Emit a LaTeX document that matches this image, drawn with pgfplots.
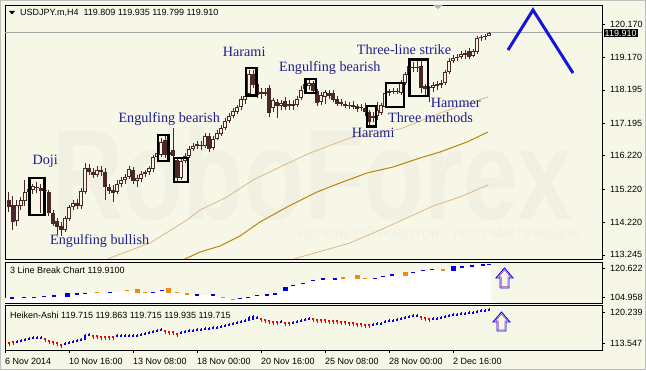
\documentclass[border=0pt]{standalone}
\usepackage{pgfplots}
\pgfplotsset{compat=1.18}
\usepackage{pgfplotstable}
\usepackage{fontspec}
\setmainfont{Liberation Sans}
\newfontfamily\seriffont{Liberation Serif}
\definecolor{bg}{RGB}{247,247,231}
\definecolor{candle}{RGB}{75,40,40}
\definecolor{navy}{RGB}{30,30,140}
\definecolor{maup}{RGB}{222,184,135}
\definecolor{mamid}{RGB}{184,134,11}
\definecolor{zz}{RGB}{20,20,220}
\definecolor{wm}{RGB}{240,240,227}
\definecolor{lbblue}{RGB}{0,0,230}
\definecolor{lborange}{RGB}{240,140,20}
\definecolor{hablue}{RGB}{0,0,235}
\definecolor{hared}{RGB}{240,0,0}

\pgfplotstableread{
i o h l c
1 114.89 115.13 114.53 114.68
2 114.74 115.01 113.99 114.23
3 114.26 114.89 114.11 114.74
4 114.71 114.98 114.59 114.89
5 114.86 115.49 114.71 115.13
6 115.13 115.31 115.01 115.22
7 115.19 115.37 115.07 115.31
8 115.28 115.43 115.10 115.25
9 115.25 115.37 114.50 115.16
10 115.19 115.31 115.07 115.16
11 115.13 115.19 114.41 114.50
12 114.50 114.59 114.11 114.17
13 114.26 114.35 113.84 114.08
14 114.11 114.23 113.81 113.99
15 113.99 114.41 113.93 114.35
16 114.32 114.74 114.26 114.68
17 114.68 114.89 114.59 114.80
18 114.80 114.92 114.62 114.71
19 114.71 115.25 114.62 115.16
20 115.13 116.00 115.07 115.85
21 115.85 115.97 115.64 115.73
22 115.73 115.85 115.55 115.64
23 115.64 115.91 115.58 115.79
24 115.79 115.91 115.61 115.73
25 115.73 115.85 114.89 115.28
26 115.28 115.37 115.07 115.16
27 115.19 115.34 114.83 115.10
28 115.13 115.49 115.07 115.37
29 115.37 115.58 115.28 115.49
30 115.49 115.67 115.37 115.58
31 115.58 115.91 115.52 115.82
32 115.79 115.88 115.37 115.46
33 115.46 115.64 115.28 115.55
34 115.52 115.76 115.43 115.67
35 115.67 115.79 115.58 115.73
36 115.73 115.91 115.64 115.85
37 115.82 116.24 115.73 116.18
38 116.18 116.39 116.09 116.30
39 116.24 116.75 116.18 116.63
40 116.69 116.81 116.15 116.24
41 116.24 116.39 116.09 116.33
42 116.39 117.05 116.09 116.21
43 116.09 116.15 115.46 115.55
44 115.55 116.18 115.49 116.06
45 116.06 116.30 116.00 116.21
46 116.21 116.51 116.15 116.42
47 116.42 116.60 116.36 116.51
48 116.51 116.66 116.42 116.57
49 116.54 116.66 116.39 116.51
50 116.51 116.90 116.45 116.81
51 116.81 116.90 116.33 116.42
52 116.45 116.81 116.39 116.72
53 116.72 116.99 116.69 116.90
54 116.87 117.14 116.81 117.05
55 117.05 117.35 116.99 117.26
56 117.26 117.50 117.20 117.41
57 117.41 117.65 117.35 117.56
58 117.53 117.74 117.47 117.68
59 117.68 118.01 117.59 117.92
60 117.89 118.10 117.77 118.01
61 118.07 118.79 118.01 118.67
62 118.67 118.79 118.25 118.34
63 118.37 118.49 117.95 118.04
64 118.07 118.25 117.92 118.13
65 118.13 118.25 118.01 118.07
66 118.25 118.34 117.38 117.50
67 117.65 117.95 117.53 117.89
68 117.83 117.92 117.35 117.71
69 117.71 117.89 117.59 117.80
70 117.86 117.98 117.59 117.68
71 117.77 117.89 117.59 117.71
72 117.71 117.89 117.59 117.77
73 117.74 118.01 117.68 117.92
74 117.95 118.31 117.89 118.19
75 118.22 118.46 118.13 118.37
76 118.31 118.49 118.19 118.40
77 118.40 118.46 118.10 118.16
78 118.16 118.22 117.71 117.80
79 117.83 118.13 117.74 118.04
80 117.98 118.19 117.77 118.13
81 118.10 118.19 117.92 118.01
82 118.10 118.19 117.83 117.89
83 117.92 118.01 117.71 117.77
84 117.83 117.92 117.71 117.77
85 117.77 117.86 117.65 117.71
86 117.74 117.83 117.62 117.71
87 117.74 117.86 117.62 117.68
88 117.71 117.77 117.53 117.62
89 117.65 117.77 117.56 117.68
90 117.65 117.80 117.41 117.53
91 117.53 117.59 117.14 117.23
92 117.35 117.53 117.23 117.41
93 117.41 117.83 117.29 117.59
94 117.50 117.80 117.44 117.74
95 117.68 118.19 117.65 118.10
96 118.10 118.22 118.01 118.16
97 118.16 118.25 118.07 118.13
98 118.13 118.25 118.07 118.16
99 118.10 118.49 118.04 118.40
100 118.40 118.73 118.34 118.67
101 118.64 119.03 118.58 118.91
102 118.88 119.03 118.73 118.85
103 118.85 119.06 118.73 118.88
104 118.91 119.09 118.10 118.25
105 118.31 118.37 117.98 118.22
106 118.25 118.31 117.83 118.28
107 118.25 118.43 118.13 118.34
108 118.31 118.46 118.19 118.37
109 118.34 118.49 118.25 118.40
110 118.40 118.79 118.34 118.73
111 118.73 119.15 118.67 119.06
112 119.06 119.24 119.00 119.15
113 119.15 119.27 119.06 119.18
114 119.18 119.36 119.12 119.27
115 119.24 119.39 119.12 119.30
116 119.36 119.45 119.12 119.18
117 119.21 119.42 119.18 119.36
118 119.33 119.81 119.27 119.75
119 119.75 119.84 119.66 119.78
120 119.78 119.87 119.70 119.81
121 119.809 119.935 119.799 119.910
}\candles

\pgfplotstableread{
i v
23.75 113.00
26.25 113.15
36.25 113.60
45.5 114.29
48.75 114.59
55.5 114.98
62 115.49
68.75 115.88
76.25 116.30
86.25 116.75
98.75 117.02
109.5 117.53
120.75 117.98
}\maU

\pgfplotstableread{
i v
42.5 113.00
45 113.12
48.75 113.33
53.75 113.51
58.75 113.81
63.75 114.23
70.5 114.68
78 115.13
83.75 115.40
90.5 115.70
97 115.88
103.75 116.15
108.75 116.33
115.5 116.63
120.75 116.93
}\maM

\pgfplotstableread{
i v
70 113.00
73 113.15
86.25 113.60
95.5 114.08
98.75 114.26
103.75 114.53
107 114.71
113.75 114.98
120.75 115.34
}\maL

\pgfplotstableread{
i v
0 104.42
1.75 104.42
4.75 104.58
7.25 104.80
9.75 105.12
12.25 105.50
15.5 106.04
18 106.58
20 106.96
23 107.28
26.25 107.28
30.5 108.58
33 108.36
35 107.28
37 107.28
39.25 108.58
40.75 108.58
43 107.28
45.5 106.58
48 106.04
52 106.04
54.5 104.80
57 103.72
58.75 104.04
60.75 104.80
63 105.66
65.5 106.04
67.5 106.58
70 109.28
72 111.06
74.5 112.36
77 113.98
79.5 114.68
82.5 114.68
84.5 115.22
88 115.76
90 115.06
92.5 115.06
94.5 115.92
96.75 116.84
100 117.38
102 118.30
104.5 119.16
106.75 119.70
109.5 119.54
112 120.46
114.25 121.16
116.75 121.70
119.5 122.24
121 122.62
121.6 122.62
}\lbarea

\pgfplotstableread{
i v
1.75 104.42
4.75 104.58
7.25 104.80
9.75 105.12
12.25 105.50
15.5 106.04
18 106.58
20 106.96
26.25 107.28
37 107.28
39.25 108.58
48 106.04
52 106.04
58.75 104.04
60.75 104.80
63 105.66
65.5 106.04
67.5 106.58
70 109.28
72 111.06
74.5 112.36
77 113.98
79.5 114.68
82.5 114.68
92.5 115.06
94.5 115.92
96.75 116.84
102 118.30
104.5 119.16
106.75 119.70
112 120.46
114.25 121.16
116.75 121.70
119.5 122.24
121 122.62
}\lbB

\pgfplotstableread{
i v
23 107.28
30.5 108.58
33 108.36
35 107.28
40.75 108.58
43 107.28
45.5 106.58
54.5 104.80
57 103.72
84.5 115.22
88 115.76
90 115.06
100 117.38
109.5 119.54
}\lbO

\pgfplotstableread{
i o h l c
1 113.76 113.76 112.90 113.33
2 113.98 113.98 113.11 113.55
3 113.55 114.19 113.55 113.98
4 113.76 114.41 113.76 114.19
5 113.98 114.63 113.98 114.41
6 114.19 114.84 114.19 114.63
7 114.41 115.06 114.41 114.84
8 114.41 115.06 114.41 114.84
9 114.41 115.06 114.41 114.84
10 114.63 114.63 113.76 114.19
11 114.19 114.19 113.33 113.76
12 113.98 113.98 113.11 113.55
13 113.76 113.76 112.90 113.33
14 113.33 113.33 112.47 112.90
15 113.11 113.76 113.11 113.55
16 113.33 113.98 113.33 113.76
17 113.55 114.19 113.55 113.98
18 113.76 114.41 113.76 114.19
19 113.98 114.63 113.98 114.41
20 114.19 115.49 114.19 115.27
21 115.06 115.70 115.06 115.49
22 115.27 115.27 114.41 114.84
23 115.27 115.27 114.41 114.84
24 115.06 115.06 114.19 114.63
25 115.06 115.06 114.19 114.63
26 115.06 115.06 114.19 114.63
27 115.06 115.06 114.19 114.63
28 114.84 115.49 114.84 115.27
29 114.84 115.49 114.84 115.27
30 114.84 115.49 114.84 115.27
31 114.84 115.49 114.84 115.27
32 114.84 115.49 114.84 115.27
33 114.84 115.49 114.84 115.27
34 115.06 115.70 115.06 115.49
35 115.27 115.92 115.27 115.70
36 115.49 116.14 115.49 115.92
37 115.70 116.35 115.70 116.14
38 115.92 116.57 115.92 116.35
39 116.14 116.78 116.14 116.57
40 116.35 116.35 115.49 115.92
41 116.14 116.14 115.27 115.70
42 116.14 116.14 115.27 115.70
43 115.70 115.70 114.84 115.27
44 115.49 116.14 115.49 115.92
45 115.70 116.35 115.70 116.14
46 115.92 116.57 115.92 116.35
47 115.92 116.57 115.92 116.35
48 116.14 116.78 116.14 116.57
49 116.14 116.78 116.14 116.57
50 116.35 117.00 116.35 116.78
51 116.35 117.00 116.35 116.78
52 116.57 117.22 116.57 117.00
53 116.57 117.22 116.57 117.00
54 116.78 117.43 116.78 117.22
55 117.00 117.65 117.00 117.43
56 117.22 117.86 117.22 117.65
57 117.43 118.08 117.43 117.86
58 117.65 118.30 117.65 118.08
59 117.86 118.51 117.86 118.30
60 118.08 118.73 118.08 118.51
61 118.30 119.38 118.30 119.16
62 118.51 119.59 118.51 119.38
63 118.73 119.38 118.73 119.16
64 118.94 118.94 118.08 118.51
65 118.73 118.73 117.86 118.30
66 118.51 118.51 117.65 118.08
67 118.30 118.30 117.43 117.86
68 118.30 118.30 117.43 117.86
69 117.86 118.51 117.86 118.30
70 118.08 118.08 117.22 117.65
71 118.08 118.08 117.22 117.65
72 117.65 118.30 117.65 118.08
73 117.86 118.51 117.86 118.30
74 118.08 118.73 118.08 118.51
75 118.30 118.94 118.30 118.73
76 118.51 119.16 118.51 118.94
77 118.94 118.94 118.08 118.51
78 118.73 118.73 117.86 118.30
79 118.73 118.73 117.86 118.30
80 118.73 118.73 117.86 118.30
81 118.51 118.51 117.65 118.08
82 118.51 118.51 117.65 118.08
83 118.51 118.51 117.65 118.08
84 118.30 118.30 117.43 117.86
85 118.30 118.30 117.43 117.86
86 118.08 118.08 117.22 117.65
87 118.08 118.08 117.22 117.65
88 117.86 117.86 117.00 117.43
89 117.86 117.86 117.00 117.43
90 117.65 117.65 116.78 117.22
91 117.65 117.65 116.78 117.22
92 117.22 117.86 117.22 117.65
93 117.43 118.08 117.43 117.86
94 117.43 118.08 117.43 117.86
95 117.86 118.51 117.86 118.30
96 118.08 118.73 118.08 118.51
97 118.08 118.73 118.08 118.51
98 118.30 118.94 118.30 118.73
99 118.51 119.16 118.51 118.94
100 118.73 119.38 118.73 119.16
101 118.94 119.59 118.94 119.38
102 119.16 119.81 119.16 119.59
103 119.16 119.81 119.16 119.59
104 119.38 119.38 118.51 118.94
105 119.16 119.16 118.30 118.73
106 118.94 118.94 118.08 118.51
107 118.51 119.16 118.51 118.94
108 118.51 119.16 118.51 118.94
109 118.73 119.38 118.73 119.16
110 118.94 119.59 118.94 119.38
111 119.16 119.81 119.16 119.59
112 119.38 120.02 119.38 119.81
113 119.38 120.02 119.38 119.81
114 119.59 120.24 119.59 120.02
115 119.59 120.24 119.59 120.02
116 119.81 120.46 119.81 120.24
117 119.81 120.46 119.81 120.24
118 120.02 120.67 120.02 120.46
119 120.24 120.89 120.24 120.67
120 120.24 120.89 120.24 120.67
121 120.46 121.10 120.46 120.89
}\ha

\newcommand{\tfont}{\fontsize{9}{10}\selectfont}
\newcommand{\pfont}{\seriffont\fontsize{14.2}{16}\selectfont}

\pgfplotsset{
  mtaxis/.style={
    anchor=south west, scale only axis, width=597pt,
    xmin=0, xmax=149.25,
    axis line style={black, line width=0.9pt},
    tick align=outside, major tick length=3pt,
    tick style={black, line width=0.6pt},
    ytick pos=right, yticklabel pos=right,
    yticklabel style={anchor=west, inner sep=0pt, xshift=5pt, font=\tfont},
    clip=true,
  },
  nomark/.style={only marks, mark=*, mark size=0.05pt, mark options={opacity=0}},
}

\begin{document}
\begin{tikzpicture}
\path[use as bounding box] (0pt,0pt) rectangle (646pt,370pt);
\fill[bg] (0pt,0pt) rectangle (646pt,370pt);
\draw[gray!50, line width=0.8pt] (0.4pt,0.4pt) rectangle (645.6pt,369.6pt);

% watermark
\node[anchor=base, text=wm, inner sep=0pt, xscale=0.77, font=\bfseries\fontsize{128}{128}\selectfont] at (312.5pt,150pt) {RoboForex};
\node[anchor=west, text=wm, inner sep=0pt, font=\fontsize{12.5}{14}\selectfont] at (298pt,137pt) {ИСПОЛЬЗУЙ РОБОТОВ – ПОЛУЧАЙ ПРИБЫЛЬ};

% main chart
\begin{axis}[mtaxis, at={(5pt,111pt)}, height=254pt,
  ymin=113.12, ymax=120.74, xtick=\empty,
  ytick={113.245,114.220,115.220,116.220,117.195,118.195,119.170,120.170},
  yticklabels={113.245,114.220,115.220,116.220,117.195,118.195,119.170,120.170}]
\addplot[maup, line width=0.8pt] table[x=i, y=v] {\maU};
\addplot[mamid, line width=1pt] table[x=i, y=v] {\maM};
\addplot[maup, line width=0.8pt] table[x=i, y=v] {\maL};
\addplot[gray!70, line width=0.7pt] coordinates {(0,119.91) (149.25,119.91)};
\addplot[nomark, error bars/.cd, y dir=plus, y explicit, error mark=none, error bar style={candle, line width=1pt}]
  table[x=i, y=l, y error plus expr={\thisrow{h}-\thisrow{l}}] {\candles};
\addplot[nomark, error bars/.cd, y dir=plus, y explicit, error mark=none, error bar style={candle, line width=3.2pt}]
  table[x=i, y expr={min(\thisrow{o},\thisrow{c})}, y error plus expr={abs(\thisrow{c}-\thisrow{o})}] {\candles};
\addplot[nomark, restrict expr to domain={\thisrow{c}-\thisrow{o}}{0.065:100},
  error bars/.cd, y dir=plus, y explicit, error mark=none, error bar style={bg, line width=1.2pt}]
  table[x=i, y expr={\thisrow{o}+0.03}, y error plus expr={\thisrow{c}-\thisrow{o}-0.06}] {\candles};
\addplot[zz, line width=3pt] coordinates {(125.75,119.39) (132,120.59) (142,118.70)};
\end{axis}

% 3 line break
\begin{axis}[mtaxis, at={(5pt,67pt)}, height=41pt,
  ymin=101.72, ymax=123.86, xtick=\empty,
  ytick={104.958,120.622}, yticklabels={104.958,120.622}]
\addplot[fill=white, draw=none] table[x=i, y=v] {\lbarea} \closedcycle;
\addplot[nomark, error bars/.cd, x dir=both, x fixed=0.6, error mark=none,
  error bar style={lbblue, line width=1.5pt}] table[x=i, y=v] {\lbB};
\addplot[nomark, error bars/.cd, x dir=both, x fixed=0.6, error mark=none,
  error bar style={lborange, line width=1.5pt}] table[x=i, y=v] {\lbO};
\addplot[only marks, mark=square*, mark size=1.7pt, lbblue] coordinates {(15.5,106.04) (70,109.28) (112,120.46)};
\addplot[only marks, mark=square*, mark size=1.7pt, lborange] coordinates {(33,108.36) (40.75,108.58) (88,115.76) (100,117.38)};
\end{axis}

% Heiken-Ashi
\begin{axis}[mtaxis, at={(5pt,20pt)}, height=45pt,
  ymin=112.04, ymax=121.75,
  xtick={0,16,32,48,64,80,96,112},
  xticklabels={6 Nov 2014,10 Nov 16:00,13 Nov 08:00,18 Nov 00:00,20 Nov 16:00,25 Nov 08:00,28 Nov 00:00,2 Dec 16:00},
  xtick pos=bottom,
  xticklabel style={anchor=north west, inner sep=0pt, xshift=0pt, yshift=-5pt, font=\tfont},
  ytick={113.547,120.239}, yticklabels={113.547,120.239}]
\addplot[nomark, restrict expr to domain={\thisrow{c}-\thisrow{o}}{0:100},
  error bars/.cd, y dir=plus, y explicit, error mark=none, error bar style={hablue, line width=0.8pt}]
  table[x=i, y=l, y error plus expr={\thisrow{h}-\thisrow{l}}] {\ha};
\addplot[nomark, restrict expr to domain={\thisrow{c}-\thisrow{o}}{0:100},
  error bars/.cd, y dir=plus, y explicit, error mark=none, error bar style={hablue, line width=2.6pt}]
  table[x=i, y=o, y error plus expr={\thisrow{c}-\thisrow{o}}] {\ha};
\addplot[nomark, restrict expr to domain={\thisrow{c}-\thisrow{o}}{-100:0},
  error bars/.cd, y dir=plus, y explicit, error mark=none, error bar style={hared, line width=0.8pt}]
  table[x=i, y=l, y error plus expr={\thisrow{h}-\thisrow{l}}] {\ha};
\addplot[nomark, restrict expr to domain={\thisrow{c}-\thisrow{o}}{-100:0},
  error bars/.cd, y dir=plus, y explicit, error mark=none, error bar style={hared, line width=2.6pt}]
  table[x=i, y=c, y error plus expr={\thisrow{o}-\thisrow{c}}] {\ha};
\end{axis}

\begin{scope}[x=1pt,y=1pt]
% header and panel labels
\fill[black] (9,359) -- (15,359) -- (12,355.5) -- cycle;
\node[anchor=west, inner sep=0pt, font=\tfont] at (20,357) {USDJPY.m,H4\hspace{5pt}119.809 119.935 119.799 119.910};
\fill[gray!60] (433,365) -- (443,365) -- (438,361) -- cycle;
\node[anchor=west, fill=black, text=white, inner sep=1pt, font=\tfont] at (603.5,337) {119.910};
\node[anchor=west, inner sep=0pt, font=\tfont] at (10,100) {3 Line Break Chart 119.9100};
\node[anchor=west, inner sep=0pt, font=\tfont] at (10,55) {Heiken-Ashi 119.715 119.863 119.715 119.935 119.715};

% up arrows
\draw[blue, line width=0.9pt, fill=bg] (504.5,102) -- (513,92) -- (509,92) -- (509,82) -- (500,82) -- (500,92) -- (496,92) -- cycle;
\draw[violet!70, line width=0.6pt] (504.5,100) -- (510.5,93) -- (507.8,93) -- (507.8,83.2) -- (501.2,83.2) -- (501.2,93) -- (498.5,93) -- cycle;
\draw[blue, line width=0.9pt, fill=bg] (501.5,58) -- (510,48) -- (506,48) -- (506,39) -- (497,39) -- (497,48) -- (493,48) -- cycle;
\draw[violet!70, line width=0.6pt] (501.5,56) -- (507.5,49) -- (504.8,49) -- (504.8,40.2) -- (498.2,40.2) -- (498.2,49) -- (495.5,49) -- cycle;

% pattern boxes
\begin{scope}[black, line width=2.2pt]
\draw (29.5,192) rectangle (44.5,155);
\draw (158,235) rectangle (168.5,209);
\draw (174,212) rectangle (188,188);
\draw (246,302) rectangle (256.5,274.5);
\draw (305.5,291) rectangle (316,277);
\draw (367,264) rectangle (376,243.5);
\draw (386,287) rectangle (404,263);
\draw (409.5,310.5) rectangle (428,274);
\end{scope}

% pattern labels
\begin{scope}[every node/.style={anchor=base west, inner sep=0pt, text=navy, font=\pfont}]
\node at (32.3,205.6) {Doji};
\node at (50,125.3) {Engulfing bullish};
\node at (118.3,247.6) {Engulfing bearish};
\node at (222.7,313) {Harami};
\node at (279,298.6) {Engulfing bearish};
\node at (356.7,315.5) {Three-line strike};
\node at (430.7,262) {Hammer};
\node at (388,247) {Three methods};
\node at (351.7,232) {Harami};
\end{scope}
\end{scope}
\end{tikzpicture}
\end{document}
